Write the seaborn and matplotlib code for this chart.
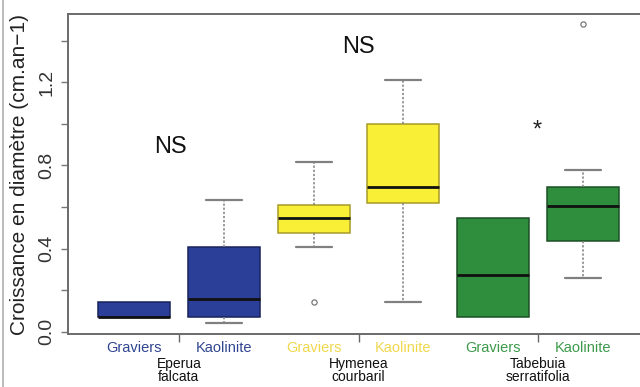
import matplotlib
matplotlib.use("Agg")
import matplotlib.pyplot as plt
from matplotlib.lines import Line2D
import seaborn as sns
import pandas as pd

# Summary values per box (cm/an): lower whisker, Q1, median, Q3, upper whisker
species = ["Eperua\nfalcata", "Hymenea\ncourbaril", "Tabebuia\nserratifolia"]
soils = ["Graviers", "Kaolinite"]
box_ids = ["EG", "EK", "HG", "HK", "TG", "TK"]
whisker_lo = [0.070, 0.043, 0.405, 0.140, 0.068, 0.260]
q1 = [0.070, 0.068, 0.477, 0.617, 0.068, 0.434]
median = [0.070, 0.155, 0.545, 0.694, 0.270, 0.607]
q3 = [0.140, 0.405, 0.610, 0.998, 0.545, 0.694]
whisker_hi = [0.140, 0.636, 0.815, 1.214, 0.545, 0.780]
outlier_box = ["HG", "TK"]
outlier_val = [0.140, 1.480]

fills = ["#2b3f98", "#2b3f98", "#f9ef36", "#f9ef36", "#2f8e3e", "#2f8e3e"]
edges = ["#18235a", "#18235a", "#a89a2a", "#a89a2a", "#1c4f26", "#1c4f26"]
label_colors = ["#2f4590", "#2f4590", "#f0d84e", "#f0d84e", "#3d9a4c", "#3d9a4c"]

# Five-number sample per box: with n=5 the quartiles fall exactly on q1/median/q3
rows = []
for b, lo, a, m, c, hi in zip(box_ids, whisker_lo, q1, median, q3, whisker_hi):
    for v in (lo, a, m, c, hi):
        rows.append({"box": b, "value": v})
df = pd.DataFrame(rows)
out_df = pd.DataFrame({"box": outlier_box, "value": outlier_val})

sns.set_style("white")
plt.rcParams["font.family"] = ["Liberation Sans", "DejaVu Sans"]

fig = plt.figure(figsize=(6.4, 3.87), dpi=100)
ax = fig.add_axes([68 / 640, 1 - 334 / 387, 581 / 640, 320 / 387])

sns.boxplot(
    data=df, x="box", y="value", hue="box", order=box_ids, hue_order=box_ids,
    palette=fills, legend=False, dodge=False, width=0.8, whis=(0, 100),
    showfliers=False, ax=ax, linewidth=1.1,
    medianprops={"color": "#111111", "linewidth": 2.0},
    whiskerprops={"color": "#808080", "linewidth": 1.1, "linestyle": (0, (1.5, 1.2))},
    capprops={"color": "#808080", "linewidth": 1.6},
    boxprops={"linewidth": 1.1},
)
for patch, ec, fc in zip(ax.patches, edges, fills):
    patch.set_edgecolor(ec)
    patch.set_facecolor(fc)
    patch.set_alpha(1)

# boxes whose whisker collapses onto the box edge get no whisker or cap
for cont, lo, a, c, hi in zip(ax.containers, whisker_lo, q1, q3, whisker_hi):
    if lo == a:
        cont.whiskers[0].set_visible(False)
        cont.caps[0].set_visible(False)
    if hi == c:
        cont.whiskers[1].set_visible(False)
        cont.caps[1].set_visible(False)

sns.scatterplot(
    data=out_df, x="box", y="value", ax=ax, marker="o", s=14,
    facecolor="white", edgecolor="#777777", linewidth=0.9, legend=False, zorder=5,
)

ax.set_xlim(-0.735, 5.735)
ax.set_ylim(-0.012, 1.53)

# y axis: ticks every 0.2, labels every 0.4, rotated as in base R
ax.set_yticks([0.0, 0.2, 0.4, 0.6, 0.8, 1.0, 1.2, 1.4])
ax.set_yticklabels(["0.0", "", "0.4", "", "0.8", "", "1.2", ""],
                   rotation=90, va="center", fontsize=14, color="#333333")
ax.tick_params(axis="y", length=5, width=1, color="#777777", pad=4, left=True)
ax.set_ylabel("Croissance en diamètre (cm.an−1)", fontsize=15, color="#222222", labelpad=7)

# x axis: soil names under each box, species between pairs
ax.set_xticks(range(6))
ax.set_xticklabels([soils[i % 2] for i in range(6)], fontsize=10.5)
for lab, col in zip(ax.get_xticklabels(), label_colors):
    lab.set_color(col)
ax.tick_params(axis="x", which="major", length=0, pad=5)
ax.set_xticks([0.5, 2.5, 4.5], minor=True)
ax.tick_params(axis="x", which="minor", length=6, width=1, color="#666666", bottom=True)
ax.set_xlabel("")
for xpos, name in zip([0.5, 2.5, 4.5], species):
    ax.text(xpos, -0.072, name, transform=ax.get_xaxis_transform(), ha="center",
            va="top", fontsize=10, color="#111111", linespacing=0.92)

for side in ("left", "bottom", "top"):
    ax.spines[side].set_visible(True)
    ax.spines[side].set_color("#6a6a6a")
    ax.spines[side].set_linewidth(1.4)
ax.spines["right"].set_visible(False)

# significance marks
ax.text(0.41, 0.89, "NS", fontsize=17, ha="center", va="center", color="#111111")
ax.text(2.5, 1.37, "NS", fontsize=17, ha="center", va="center", color="#111111")
ax.text(4.49, 0.97, "*", fontsize=17, ha="center", va="center", color="#222222")

fig.add_artist(Line2D([3 / 640, 3 / 640], [0, 1], transform=fig.transFigure,
                      color="#b0b0b0", linewidth=1.2))

fig.savefig("out.png", dpi=100)
